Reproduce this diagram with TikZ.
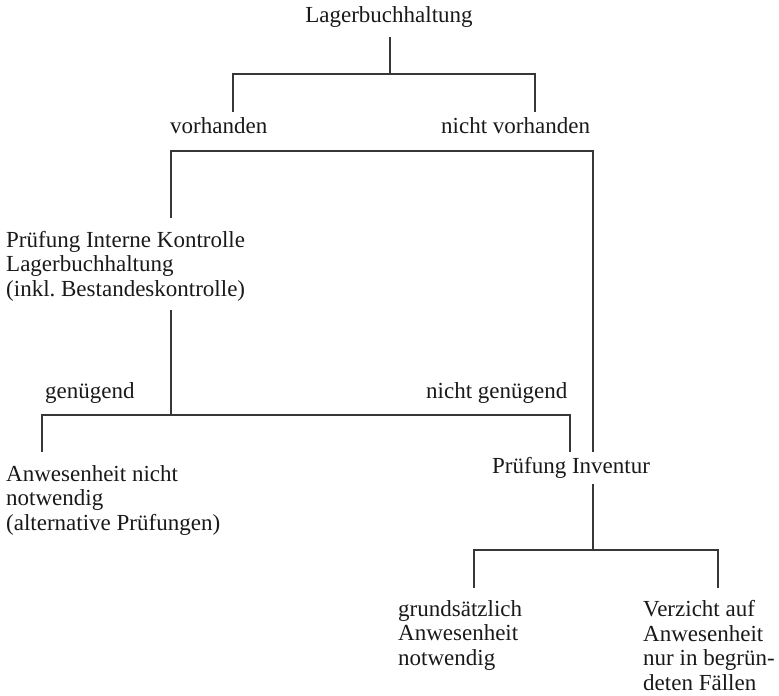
\documentclass[tikz,border=0pt]{standalone}
\usepackage{fontspec}
\setmainfont{Liberation Serif}
\definecolor{linegray}{RGB}{55,55,55}
\definecolor{textgray}{RGB}{25,25,25}
\begin{document}
\begin{tikzpicture}[x=1pt,y=-1pt,
  lbl/.style={inner sep=0pt, anchor=base west, text=textgray, font=\fontsize{23}{24.5}\selectfont, align=left},
  conn/.style={draw=linegray, line width=1.2pt}]
\useasboundingbox (0,0) rectangle (779,696);
% text nodes (multi-line nodes are placed by the baseline of their last line)
\node[lbl, anchor=base] (root) at (389,23) {Lagerbuchhaltung};
\node[lbl] (vorh) at (170,133) {vorhanden};
\node[lbl] (nvorh) at (441,133) {nicht vorhanden};
\node[lbl] (pik) at (6,296) {Prüfung Interne Kontrolle\\Lagerbuchhaltung\\(inkl.\ Bestandeskontrolle)};
\node[lbl] (gen) at (45,398) {genügend};
\node[lbl] (ngen) at (426,398) {nicht genügend};
\node[lbl] (anw) at (6,530) {Anwesenheit nicht\\notwendig\\(alternative Prüfungen)};
\node[lbl] (pinv) at (492,473) {Prüfung Inventur};
\node[lbl] (grund) at (398,665) {grundsätzlich\\Anwesenheit\\notwendig};
\node[lbl] (verz) at (643,690) {Verzicht auf\\Anwesenheit\\nur in begrün-\\deten Fällen};
% junction coordinates
\coordinate (r1) at (390,37);
\coordinate (j1) at (390,74);
\coordinate (v1) at (233,112);
\coordinate (nv1) at (535,112);
\coordinate (jv) at (171,151);
\coordinate (pk1) at (171,218);
\coordinate (jn) at (593,151);
\coordinate (pi1) at (593,452);
\coordinate (pk2) at (171,310);
\coordinate (j2) at (171,415);
\coordinate (a1) at (42,452);
\coordinate (ng1) at (570,452);
\coordinate (pi2) at (593,484);
\coordinate (j3) at (593,550);
\coordinate (g1) at (474,588);
\coordinate (vz1) at (718,588);
% connectors
\draw[conn] (r1) -- (j1);
\draw[conn] (v1) |- (j1) -| (nv1);
\draw[conn] (pk1) -- (jv) -- (jn) -- (pi1);
\draw[conn] (pk2) -- (j2);
\draw[conn] (a1) |- (j2) -| (ng1);
\draw[conn] (pi2) -- (j3);
\draw[conn] (g1) |- (j3) -| (vz1);
\end{tikzpicture}
\end{document}
